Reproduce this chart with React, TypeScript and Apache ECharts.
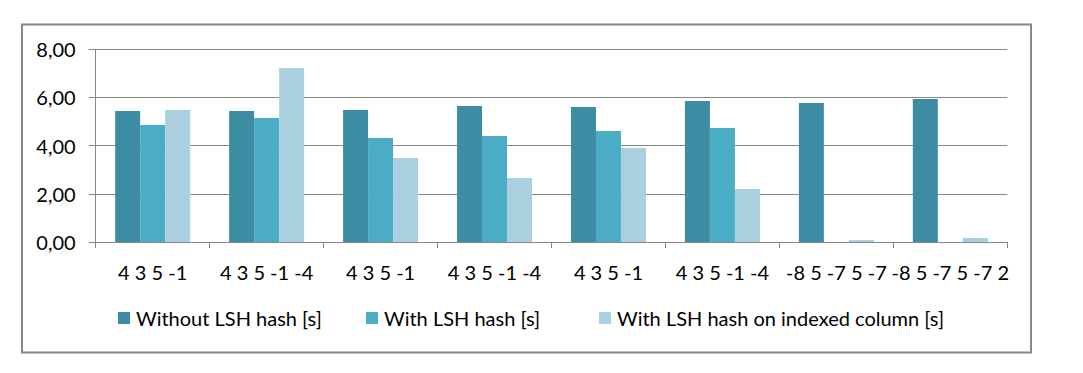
import React, { useEffect, useRef } from "react";
import * as echarts from "echarts";

const categories = ["4 3 5 -1", "4 3 5 -1 -4", "4 3 5 -1", "4 3 5 -1 -4", "4 3 5 -1", "4 3 5 -1 -4", "-8 5 -7 5 -7", "-8 5 -7 5 -7 2"];
const withoutLsh = [5.44, 5.44, 5.48, 5.65, 5.6, 5.85, 5.77, 5.94];
const withLsh: (number | null)[] = [4.86, 5.15, 4.32, 4.4, 4.61, 4.73, null, null];
const withLshIndexed = [5.48, 7.22, 3.49, 2.66, 3.9, 2.2, 0.08, 0.17];
const seriesNames = ["Without LSH hash [s]", "With LSH hash [s]", "With LSH hash on indexed column [s]"];
const yTicks = { min: 0, max: 8, interval: 2 };

const colors = ["#3D8CA3", "#4BACC6", "#AACFDE"];
const FONT = "Lato";
const FS = 20;

export default function App() {
  const ref = useRef<HTMLDivElement>(null);
  useEffect(() => {
    const chart = echarts.init(ref.current!, undefined, { renderer: "svg" });
    const legendLefts = [118, 366, 599];
    chart.setOption({
      animation: false,
      graphic: [
        {
          type: "rect",
          shape: { x: 22, y: 24.5, width: 1009, height: 328 },
          style: { fill: "none", stroke: "#878787", lineWidth: 2 },
        },
      ],
      grid: { left: 95.7, right: 75.7, top: 49.3, bottom: 131 },
      legend: seriesNames.map((n, i) => ({
        data: [n],
        left: legendLefts[i],
        top: 308,
        itemWidth: 12,
        itemHeight: 12,
        itemGap: 0,
        icon: "rect",
        textStyle: { fontFamily: FONT, fontSize: FS, color: "#000", padding: [0, 0, 0, 1] },
        padding: 0,
      })),
      xAxis: {
        type: "category",
        data: categories,
        axisLine: { lineStyle: { color: "#868686", width: 1 } },
        axisTick: { show: true, length: 6, lineStyle: { color: "#868686" } },
        axisLabel: { interval: 0, fontFamily: FONT, fontSize: FS, color: "#000", margin: 20 },
      },
      yAxis: {
        type: "value",
        min: yTicks.min,
        max: yTicks.max,
        interval: yTicks.interval,
        axisLine: { show: true, lineStyle: { color: "#868686" } },
        axisTick: { show: true, length: 7, lineStyle: { color: "#868686" } },
        splitLine: { lineStyle: { color: "#868686", width: 1 } },
        axisLabel: {
          fontFamily: FONT,
          fontSize: FS,
          color: "#000",
          margin: 20,
          formatter: (v: number) => v.toFixed(2).replace(".", ","),
        },
      },
      series: [withoutLsh, withLsh, withLshIndexed].map((d, i) => ({
        name: seriesNames[i],
        type: "bar",
        data: d,
        barWidth: 25,
        barGap: "0%",
        itemStyle: { color: colors[i] },
      })),
    });
    return () => chart.dispose();
  }, []);
  return (
    <div
      ref={ref}
      style={{ position: "absolute", left: 0, top: 0, width: 1083, height: 373, background: "#fff" }}
    />
  );
}
